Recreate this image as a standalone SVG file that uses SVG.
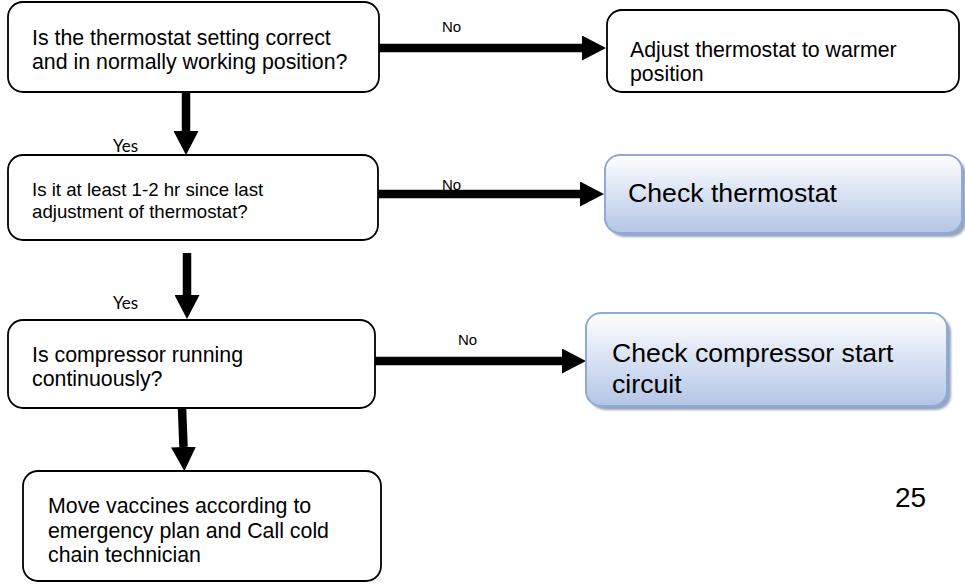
<svg xmlns="http://www.w3.org/2000/svg" width="965" height="584" viewBox="0 0 965 584">
  <style>
    .q { fill: #ffffff; stroke: #000000; stroke-width: 1.8; }
    .act { fill: url(#blueFill); stroke: #8eaadb; stroke-width: 2; }
    .shadow { fill: #8796b0; opacity: 0.85; }
    .t { font-family: "Liberation Sans", Arial, sans-serif; fill: #000000; }
    .big { font-size: 26.67px; }
    .mid { font-size: 21.33px; }
    .small { font-size: 18.67px; }
    .lbl { font-family: "Liberation Sans", Arial, sans-serif; font-size: 15px; fill: #000000; }
    .yes { font-family: Lato, "Open Sans", sans-serif; font-size: 17px; fill: #000000; }
    .shaft { stroke: #000000; stroke-width: 8.5; fill: none; marker-end: url(#head); }
  </style>
  <defs>
    <linearGradient id="blueFill" x1="0" y1="0" x2="0" y2="1">
      <stop offset="0" stop-color="#ffffff"/>
      <stop offset="1" stop-color="#b3c5e6"/>
    </linearGradient>
    <filter id="soft" x="-5%" y="-10%" width="110%" height="120%">
      <feGaussianBlur stdDeviation="1"/>
    </filter>
    <marker id="head" viewBox="0 0 24 25" refX="0" refY="12.5" markerWidth="24" markerHeight="25" markerUnits="userSpaceOnUse" orient="auto">
      <path d="M0,0 L24,12.5 L0,25 Z" fill="#000000"/>
    </marker>
  </defs>

  <!-- connectors -->
  <g id="connectors">
    <line class="shaft" x1="379" y1="48" x2="582" y2="48"/>
    <line class="shaft" x1="378" y1="194" x2="580" y2="194"/>
    <line class="shaft" x1="375" y1="361" x2="562" y2="361"/>
    <line class="shaft" x1="186" y1="92" x2="186" y2="131"/>
    <line class="shaft" x1="187" y1="253" x2="187" y2="295"/>
    <line class="shaft" x1="182" y1="408" x2="183.5" y2="447"/>
    <text class="lbl" x="442" y="32">No</text>
    <text class="lbl" x="442" y="190">No</text>
    <text class="lbl" x="458" y="345">No</text>
    <text class="yes" x="113" y="152">Yes</text>
    <text class="yes" x="113" y="309">Yes</text>
  </g>

  <!-- decision: thermostat setting -->
  <g id="q-setting">
    <rect class="q" x="8" y="2" width="371" height="90" rx="15" ry="15"/>
    <text class="t mid" x="32" y="45">Is the thermostat setting correct</text>
    <text class="t mid" x="32" y="69">and in normally working position?</text>
  </g>

  <!-- action: adjust thermostat -->
  <g id="a-adjust">
    <rect class="q" x="607" y="10" width="352" height="82" rx="15" ry="15"/>
    <text class="t mid" x="630" y="57">Adjust thermostat to warmer</text>
    <text class="t mid" x="630" y="81">position</text>
  </g>

  <!-- decision: time since adjustment -->
  <g id="q-time">
    <rect class="q" x="8" y="155" width="370" height="85" rx="15" ry="15"/>
    <text class="t small" x="32" y="196">Is it at least 1-2 hr since last</text>
    <text class="t small" x="32" y="218">adjustment of thermostat?</text>
  </g>

  <!-- action: check thermostat -->
  <g id="a-check-thermostat">
    <rect class="shadow" x="609" y="159" width="357" height="78" rx="15" ry="15" filter="url(#soft)"/>
    <rect class="act" x="605" y="155" width="357" height="78" rx="15" ry="15"/>
    <text class="t big" x="628" y="202">Check thermostat</text>
  </g>

  <!-- decision: compressor running -->
  <g id="q-compressor">
    <rect class="q" x="8" y="320" width="367" height="88" rx="15" ry="15"/>
    <text class="t mid" x="32" y="362">Is compressor running</text>
    <text class="t mid" x="32" y="386">continuously?</text>
  </g>

  <!-- action: check compressor start circuit -->
  <g id="a-check-circuit">
    <rect class="shadow" x="590" y="317" width="361" height="93" rx="15" ry="15" filter="url(#soft)"/>
    <rect class="act" x="586" y="313" width="361" height="93" rx="15" ry="15"/>
    <text class="t big" x="612" y="362">Check compressor start</text>
    <text class="t big" x="612" y="393">circuit</text>
  </g>

  <!-- action: move vaccines -->
  <g id="a-move">
    <rect class="q" x="23" y="471" width="358" height="110" rx="15" ry="15"/>
    <text class="t mid" x="48" y="513">Move vaccines according to</text>
    <text class="t mid" x="48" y="538">emergency plan and Call cold</text>
    <text class="t mid" x="48" y="562">chain technician</text>
  </g>

  <!-- page number -->
  <text class="t" font-size="28" x="895" y="507">25</text>
</svg>
